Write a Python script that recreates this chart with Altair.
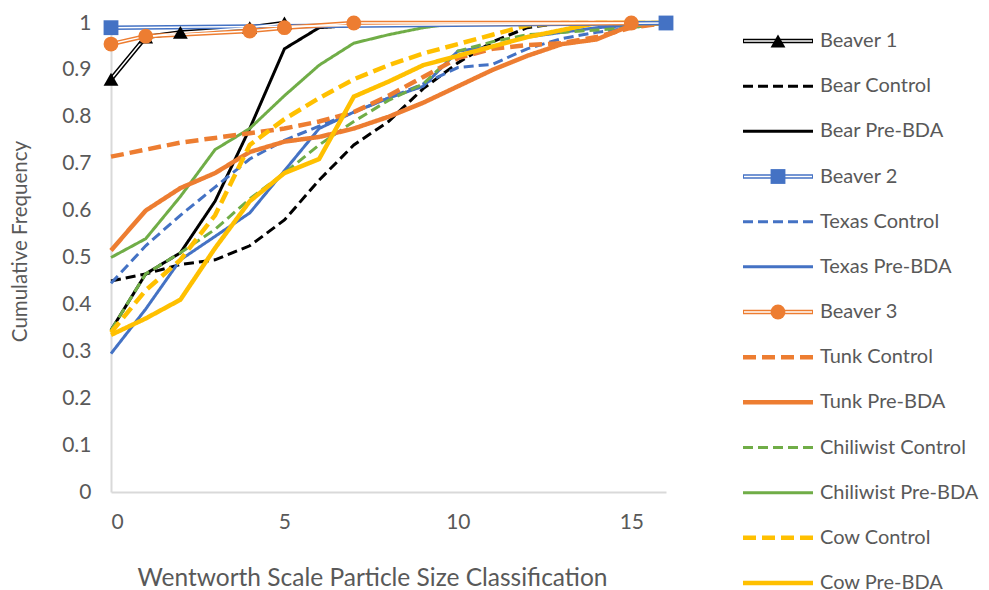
import altair as alt
import pandas as pd

# ---------------- data ----------------
x_bins = list(range(17))
bear_control = [0.45, 0.465, 0.485, 0.495, 0.525, 0.58, 0.665, 0.74, 0.79, 0.86, 0.915, 0.96, 0.99, 1, 1, 1, 1]
bear_pre = [0.345, 0.465, 0.51, 0.62, 0.775, 0.945, 0.99, 0.995, 1, 1, 1, 1, 1, 1, 1, 1, 1]
texas_control = [0.445, 0.525, 0.59, 0.65, 0.71, 0.75, 0.78, 0.81, 0.84, 0.87, 0.905, 0.912, 0.945, 0.967, 0.98, 0.99, 1]
texas_pre = [0.295, 0.39, 0.495, 0.545, 0.595, 0.685, 0.775, 0.81, 0.84, 0.865, 0.94, 0.95, 0.97, 0.98, 0.99, 0.995, 1]
tunk_control = [0.715, 0.73, 0.745, 0.755, 0.765, 0.775, 0.79, 0.81, 0.845, 0.885, 0.925, 0.945, 0.953, 0.957, 0.97, 0.99, 1]
tunk_pre = [0.515, 0.6, 0.648, 0.68, 0.725, 0.747, 0.757, 0.775, 0.8, 0.83, 0.865, 0.9, 0.93, 0.955, 0.965, 0.995, 1]
chili_control = [0.345, 0.465, 0.51, 0.56, 0.625, 0.68, 0.74, 0.79, 0.835, 0.87, 0.94, 0.96, 0.975, 0.98, 0.985, 0.99, 1]
chili_pre = [0.5, 0.54, 0.63, 0.73, 0.775, 0.845, 0.91, 0.957, 0.975, 0.99, 1, 1, 1, 1, 1, 1, 1]
cow_control = [0.34, 0.43, 0.495, 0.59, 0.74, 0.795, 0.84, 0.88, 0.91, 0.935, 0.955, 0.975, 0.995, 1, 1, 1, 1]
cow_pre = [0.335, 0.37, 0.41, 0.52, 0.62, 0.68, 0.71, 0.843, 0.875, 0.91, 0.93, 0.95, 0.97, 0.985, 1, 1, 1]

beaver1_x = [0, 1, 2, 4, 5]
beaver1_y = [0.88, 0.97, 0.98, 0.99, 1.0]
beaver2_x = [0, 16]
beaver2_y = [0.99, 1.0]
beaver3_x = [0, 1, 4, 5, 7, 15]
beaver3_y = [0.955, 0.972, 0.983, 0.99, 1.0, 1.0]

series_names = ["Beaver 1", "Bear Control", "Bear Pre-BDA", "Beaver 2", "Texas Control",
                "Texas Pre-BDA", "Beaver 3", "Tunk Control", "Tunk Pre-BDA",
                "Chiliwist Control", "Chiliwist Pre-BDA", "Cow Control", "Cow Pre-BDA"]
beaver_names = ["Beaver 1", "Beaver 2", "Beaver 3"]
thin_names = ["Bear Control", "Bear Pre-BDA", "Texas Control", "Texas Pre-BDA",
              "Chiliwist Control", "Chiliwist Pre-BDA"]
thick_names = ["Tunk Control", "Tunk Pre-BDA", "Cow Control", "Cow Pre-BDA"]

# ---------------- styles ----------------
BLACK, BLUE, ORANGE, GREEN, GOLD = "#000000", "#4472C4", "#ED7D31", "#70AD47", "#FFC000"
colors = [BLACK, BLACK, BLACK, BLUE, BLUE, BLUE, ORANGE, ORANGE, ORANGE, GREEN, GREEN, GOLD, GOLD]
SOLID, DASH, LDASH = [1, 0], [10, 5], [13, 6]
dashes = [SOLID, DASH, SOLID, SOLID, DASH, SOLID, SOLID, LDASH, SOLID, DASH, SOLID, LDASH, SOLID]
shapes = ["triangle-up", "square", "circle"]
TXT = "#595959"
FONT = "Lato"

rows = []
for name, vals in [("Bear Control", bear_control), ("Bear Pre-BDA", bear_pre),
                   ("Texas Control", texas_control), ("Texas Pre-BDA", texas_pre),
                   ("Tunk Control", tunk_control), ("Tunk Pre-BDA", tunk_pre),
                   ("Chiliwist Control", chili_control), ("Chiliwist Pre-BDA", chili_pre),
                   ("Cow Control", cow_control), ("Cow Pre-BDA", cow_pre)]:
    for xv, yv in zip(x_bins, vals):
        rows.append({"series": name, "x": xv, "y": yv})
df = pd.DataFrame(rows)

brows = []
for name, xs, ys in [("Beaver 1", beaver1_x, beaver1_y), ("Beaver 2", beaver2_x, beaver2_y),
                     ("Beaver 3", beaver3_x, beaver3_y)]:
    for xv, yv in zip(xs, ys):
        brows.append({"series": name, "x": xv, "y": yv})
bdf = pd.DataFrame(brows)

leg = pd.DataFrame({"series": series_names})

color_scale = alt.Scale(domain=series_names, range=colors)
dash_scale = alt.Scale(domain=series_names, range=dashes)
shape_scale = alt.Scale(domain=beaver_names, range=shapes)
col = alt.Color("series:N", scale=color_scale, legend=None)
dsh = alt.StrokeDash("series:N", scale=dash_scale, legend=None)
shp = alt.Shape("series:N", scale=shape_scale, legend=None)

xenc = alt.X("x:Q", scale=alt.Scale(domain=[0, 16], nice=False, zero=False),
             axis=alt.Axis(values=[0, 5, 10, 15], title="Wentworth Scale Particle Size Classification",
                           grid=False, ticks=False, tickSize=0, domainColor="#D9D9D9", domainWidth=2,
                           labelFont=FONT, labelFontSize=21, labelColor=TXT, labelPadding=19,
                           titleFont=FONT, titleFontSize=24.5, titleColor=TXT, titleFontWeight="normal",
                           titlePadding=34, titleX=261, titleAlign="center"))
yenc = alt.Y("y:Q", scale=alt.Scale(domain=[0, 1], nice=False),
             axis=alt.Axis(values=[0, 0.1, 0.2, 0.3, 0.4, 0.5, 0.6, 0.7, 0.8, 0.9, 1], format="~g",
                           title="Cumulative Frequency", grid=False, ticks=False, tickSize=0,
                           domainColor="#D9D9D9", domainWidth=2,
                           labelFont=FONT, labelFontSize=21, labelColor=TXT, labelPadding=20,
                           titleFont=FONT, titleFontSize=20.5, titleColor=TXT, titleFontWeight="normal",
                           titlePadding=31, titleY=218, titleAlign="center"))

base = alt.Chart(df).encode(x=xenc, y=yenc, color=col, strokeDash=dsh, order=alt.Order("x:Q"))
thin = base.mark_line(strokeWidth=3).transform_filter(
    alt.FieldOneOfPredicate(field="series", oneOf=thin_names))
thick = base.mark_line(strokeWidth=4.5).transform_filter(
    alt.FieldOneOfPredicate(field="series", oneOf=thick_names))

bbase = alt.Chart(bdf).encode(x="x:Q", y="y:Q")
b_outer = bbase.mark_line(strokeWidth=4.5).encode(color=col, detail="series:N")
b_inner = bbase.mark_line(strokeWidth=1.5, color="white").encode(detail="series:N")
b_marks = bbase.mark_point(filled=True, opacity=1, size=220).encode(color=col, shape=shp)

main = alt.layer(thin, thick, b_outer, b_inner, b_marks)

# ---------------- legend (drawn right of the plot) ----------------
ly = alt.Y("series:N", sort=series_names,
           scale=alt.Scale(type="point", domain=series_names, range=[18, 560], padding=0), axis=None)
lbase = alt.Chart(leg).encode(y=ly)
leg_thin = lbase.mark_rule(strokeWidth=3).encode(
    x=alt.value(632), x2=alt.value(702), color=col, strokeDash=dsh
).transform_filter(alt.FieldOneOfPredicate(field="series", oneOf=thin_names))
leg_thick = lbase.mark_rule(strokeWidth=4.5).encode(
    x=alt.value(632), x2=alt.value(702), color=col, strokeDash=dsh
).transform_filter(alt.FieldOneOfPredicate(field="series", oneOf=thick_names))
leg_bout = lbase.mark_rule(strokeWidth=4.5).encode(
    x=alt.value(632), x2=alt.value(702), color=col
).transform_filter(alt.FieldOneOfPredicate(field="series", oneOf=beaver_names))
leg_bin = lbase.mark_rule(strokeWidth=1.5, color="white").encode(
    x=alt.value(633), x2=alt.value(701)
).transform_filter(alt.FieldOneOfPredicate(field="series", oneOf=beaver_names))
leg_marks = lbase.mark_point(filled=True, opacity=1, size=220).encode(
    x=alt.value(667), color=col, shape=shp
).transform_filter(alt.FieldOneOfPredicate(field="series", oneOf=beaver_names))
leg_text = lbase.mark_text(align="left", baseline="middle", font=FONT, fontSize=20,
                           color=TXT).encode(x=alt.value(709), text="series:N")
legend = alt.layer(leg_thin, leg_thick, leg_bout, leg_bin, leg_marks, leg_text)

chart = alt.layer(main, legend).resolve_scale(y="independent").properties(
    width=555, height=469,
    autosize=alt.AutoSizeParams(type="none"),
    padding={"left": 103, "top": 15, "right": 315, "bottom": 98},
).configure_view(stroke=None)

chart.save("out.html", embed_options={"renderer": "svg", "actions": False})
